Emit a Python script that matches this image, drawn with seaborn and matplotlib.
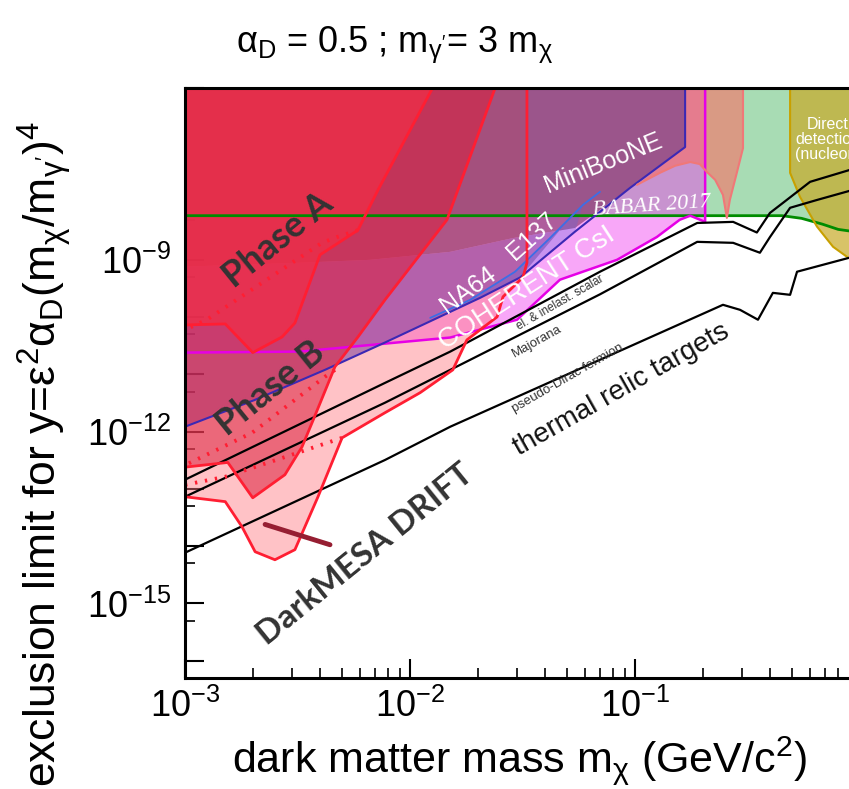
import math
import matplotlib
matplotlib.use('Agg')
import matplotlib.pyplot as plt
import matplotlib.ticker as mticker
import seaborn as sns

# axis ranges (GeV, y = eps^2 alpha_D (m_chi/m_A')^4)
x_min, x_max = 1e-3, 1.0
y_min, y_max = 5e-17, 1e-6

# BaBar 2017 (green) lower edge
babar_x = [1e-3, 0.45, 0.55, 0.68, 0.8, 1.0]
babar_y = [5.9e-9, 5.9e-9, 5.3e-9, 4.2e-9, 3.4e-9, 3.0e-9]

# COHERENT CsI lower edge, right edge at 0.205 GeV
coh_x = [1e-3, 3.24e-3, 1.51e-2, 2.99e-2, 4.64e-2, 8.32e-2, 0.125, 0.158, 0.176, 0.205, 0.205]
coh_y = [2.4e-11, 2.5e-11, 4.4e-11, 9.0e-11, 4.5e-10, 1e-9, 2.5e-9, 5.0e-9, 5.9e-9, 4.6e-9, 1e-6]

# salmon region (top right, with spike)
sal_x = [0.167, 0.302, 0.302, 0.284, 0.264, 0.256, 0.246, 0.227, 0.209, 0.194, 0.176, 0.151, 0.129, 0.102, 0.167]
sal_y = [1e-6, 1e-6, 8.9e-8, 3.4e-8, 1.11e-8, 5.4e-9, 1.36e-8, 2.5e-8, 3.4e-8, 4.7e-8, 5.1e-8, 4.4e-8, 3.3e-8, 2.04e-8, 9.3e-8]

# MiniBooNE (lower edge continues as the faint curve on the left)
mb_x = [1e-3, 0.167, 0.167, 9.5e-2, 5.41e-2, 2.87e-2, 1.51e-2, 6.64e-3, 3.24e-3, 1e-3]
mb_y = [1e-6, 1e-6, 9.3e-8, 1.8e-8, 3.6e-9, 2.4e-9, 1.38e-9, 1e-9, 8.9e-10, 7.6e-10]

# NA64 band: lower edge, upper edge
na64_lo_x = [1e-3, 2.05e-3, 4.19e-3, 7.74e-3, 2.05e-2, 3.08e-2, 4.64e-2, 5.41e-2]
na64_lo_y = [1.22e-12, 3.6e-12, 1.2e-11, 3.6e-11, 2.17e-10, 4.9e-10, 3.3e-9, 3.6e-9]
na64_hi_x = [2.87e-2, 1.51e-2, 6.64e-3, 3.24e-3, 1e-3]
na64_hi_y = [2.4e-9, 1.38e-9, 1e-9, 8.9e-10, 7.6e-10]

# indigo boundary line (NA64 / MiniBooNE)
ind_x = [1e-3, 2.05e-3, 4.19e-3, 7.74e-3, 2.05e-2, 3.08e-2, 5.41e-2, 9.5e-2, 0.167, 0.167]
ind_y = [1.22e-12, 3.6e-12, 1.2e-11, 3.6e-11, 2.17e-10, 4.9e-10, 3.1e-9, 1.8e-8, 9.3e-8, 1e-6]

# E137 line
e137_x = [1.23e-2, 1.85e-2, 2.93e-2, 4.19e-2, 5.87e-2, 6.99e-2]
e137_y = [9.7e-11, 2.0e-10, 6.2e-10, 2.4e-9, 9.1e-9, 1.54e-8]

# direct detection (nucleon)
dd_x = [0.489, 0.489, 0.541, 0.644, 0.759, 0.875, 1.0, 1.0]
dd_y = [1e-6, 3.3e-8, 1.26e-8, 3.8e-9, 1.69e-9, 1.13e-9, 9.2e-10, 1e-6]

# DarkMESA Phase A / Phase B
phA_x = [1.26e-2, 7.21e-3, 5.87e-3, 3.98e-3, 3.08e-3, 2.70e-3, 2.0e-3, 1.51e-3, 1e-3]
phA_y = [1e-6, 1.66e-8, 3.3e-9, 1.22e-9, 7.9e-11, 4.5e-11, 2.4e-11, 7.6e-11, 7.3e-11]
phA_dot_x = [5.87e-3, 4.74e-3, 4.06e-3, 1.25e-3, 1e-3]
phA_dot_y = [3.3e-9, 2.5e-9, 1.98e-9, 9.0e-11, 6.0e-11]

phB2_x = [2.39e-2, 1.46e-2, 7.74e-3, 5.87e-3, 4.64e-3, 3.67e-3, 3.31e-3, 2.78e-3, 2.0e-3, 1.55e-3, 1e-3]
phB2_y = [1e-6, 5.0e-9, 2.0e-10, 4.5e-11, 1.36e-11, 1.43e-12, 5.4e-13, 1.77e-13, 7.0e-14, 2.9e-13, 2.4e-13]

phB_x = [3.31e-2, 3.31e-2, 3.18e-2, 2.59e-2, 2.44e-2, 2.05e-2, 1.79e-2, 1.55e-2, 1.11e-2, 7.74e-3,
         4.99e-3, 3.90e-3, 3.08e-3, 2.51e-3, 2.05e-3, 1.79e-3, 1.51e-3, 1e-3]
phB_y = [1e-6, 8.9e-10, 5.0e-10, 2.26e-10, 1.01e-10, 6.0e-11, 4.0e-11, 1.2e-11, 4.8e-12, 2.14e-12,
         7.8e-13, 7.3e-14, 8.7e-15, 5.8e-15, 8.0e-15, 2.2e-14, 6.0e-14, 7.3e-14]
phB_dot1_x = [4.64e-3, 4.19e-3, 1.99e-3, 1e-3]
phB_dot1_y = [1.2e-11, 9.1e-12, 9.6e-13, 2.6e-13]
phB_dot2_x = [4.99e-3, 2.78e-3, 1.51e-3, 1e-3]
phB_dot2_y = [7.8e-13, 3.6e-13, 1.63e-13, 1.18e-13]

drift_x = [2.27e-3, 4.41e-3]
drift_y = [2.4e-14, 1.06e-14]

# thermal relic targets
scalar_x = [1e-3, 7.74e-3, 1.51e-2, 6.99e-2, 0.189, 0.273, 0.348, 0.398, 0.455, 0.600, 1.0]
scalar_y = [1.45e-13, 7.1e-12, 2.5e-11, 6.2e-10, 4.4e-9, 4.6e-9, 3.0e-9, 6.6e-9, 9.9e-9, 2.3e-8, 4.2e-8]
majorana_x = [1e-3, 7.74e-3, 1.51e-2, 6.99e-2, 0.189, 0.273, 0.359, 0.398, 0.489, 0.644, 1.0]
majorana_y = [7.3e-14, 3.2e-12, 1.2e-11, 2.5e-10, 2.06e-9, 1.98e-9, 1.33e-9, 2.5e-9, 8.1e-9, 1.11e-8, 1.8e-8]
pdirac_x = [1e-3, 7.74e-3, 1.51e-2, 0.246, 0.293, 0.352, 0.410, 0.489, 0.525, 1.0]
pdirac_y = [7.7e-15, 3.2e-13, 1.22e-12, 1.64e-10, 1.34e-10, 9.0e-11, 2.65e-10, 2.45e-10, 6.2e-10, 1.22e-9]

y_labelled = [-9, -12, -15]

sns.set_theme(style='ticks')
plt.rcParams['font.family'] = ['Liberation Sans', 'DejaVu Sans']
plt.rcParams['mathtext.default'] = 'regular'
plt.rcParams['text.color'] = 'black'

fig = plt.figure(figsize=(8.49, 7.89), dpi=100)
ax = fig.add_axes([185 / 849, 111 / 789, 675 / 849, 590 / 789])
ax.set_xscale('log')
ax.set_yscale('log')
ax.set_xlim(x_min, x_max)
ax.set_ylim(y_min, y_max)


def region(x, y, color, alpha, z):
    ax.fill(x, y, color=color, alpha=alpha, lw=0, zorder=z)


def trace(x, y, color, lw, ls='-', z=6):
    sns.lineplot(x=x, y=y, sort=False, estimator=None, color=color, lw=lw,
                 linestyle=ls, zorder=z, ax=ax, legend=False)


# filled regions, back to front
region(babar_x + [x_max, x_min], babar_y + [y_max, y_max], '#a8dcb4', 1.0, 1)
region(coh_x + [x_min], coh_y + [y_max], '#f03cf0', 0.45, 2)
region(sal_x, sal_y, '#fa6e64', 0.6, 2.5)
region(phB_x + [x_min], phB_y + [y_max], '#ff7882', 0.45, 2.8)
region(mb_x, mb_y, '#7d2d5f', 0.6, 3)
region(na64_lo_x + na64_hi_x, na64_lo_y + na64_hi_y, '#6e3296', 0.5, 3.2)
region(e137_x[:5] + ind_x[6:3:-1], e137_y[:5] + ind_y[6:3:-1], '#5a64dc', 0.3, 3.4)
region(dd_x, dd_y, '#c8aa28', 0.7, 3.6)
region(phB2_x + [x_min], phB2_y + [y_max], '#dc1e3c', 0.55, 4.2)
region(phA_x + [x_min], phA_y + [y_max], '#f32d46', 0.7, 4.4)

# boundary lines
trace(babar_x, babar_y, '#008c00', 2.0)
trace(coh_x, coh_y, '#e600e6', 1.8)
trace(ind_x, ind_y, '#3c28b4', 1.5)
trace(e137_x, e137_y, '#3c6ee6', 1.3)
trace(sal_x[1:-1], sal_y[1:-1], '#f07878', 1.5)
trace(dd_x[:-2], dd_y[:-2], '#c8a000', 1.5)
for tx, ty in [(scalar_x, scalar_y), (majorana_x, majorana_y), (pdirac_x, pdirac_y)]:
    trace(tx, ty, 'black', 1.6, z=7)
for px, py in [(phA_x, phA_y), (phB2_x, phB2_y), (phB_x, phB_y)]:
    trace(px, py, '#ff1e32', 2.0, z=8)
for px, py in [(phA_dot_x, phA_dot_y), (phB_dot1_x, phB_dot1_y), (phB_dot2_x, phB_dot2_y)]:
    trace(px, py, '#ff1e32', 2.8, ls=(0, (0.6, 2.0)), z=8)
trace(drift_x, drift_y, '#961e32', 3.5, z=9)

# labels inside the plot
geo = ['Lato', 'DejaVu Sans']
kw = dict(ha='center', va='center', rotation_mode='anchor', zorder=10)
ax.text(2.6e-3, 2.2e-9, 'Phase A', fontsize=26, fontweight='bold', color='#333333', family=geo, rotation=39, **kw)
ax.text(2.4e-3, 5.8e-12, 'Phase B', fontsize=26, fontweight='bold', color='#333333', family=geo, rotation=39, **kw)
ax.text(6.3e-3, 7.1e-15, 'DarkMESA DRIFT', fontsize=24, fontweight='bold', color='#333333', family=geo, rotation=39, **kw)
ax.text(7.2e-2, 4.9e-8, 'MiniBooNE', fontsize=18, color='white', rotation=22, **kw)
ax.text(0.118, 8.6e-9, 'BABAR 2017', fontsize=16, color='white', style='italic',
        family=['Liberation Serif', 'DejaVu Serif'], rotation=4, **kw)
ax.text(1.81e-2, 3.0e-10, 'NA64', fontsize=18, color='white', rotation=36, **kw)
ax.text(3.5e-2, 2.6e-9, 'E137', fontsize=18, color='white', rotation=42, **kw)
ax.text(3.3e-2, 3.2e-10, 'COHERENT CsI', fontsize=20, color='white', rotation=33, **kw)
ax.text(4.64e-2, 1.75e-10, 'el. & inelast. scalar', fontsize=8.5, color='#333333', rotation=30, **kw)
ax.text(3.67e-2, 3.8e-11, 'Majorana', fontsize=9.5, color='#333333', rotation=29, **kw)
ax.text(5.04e-2, 8.7e-12, 'pseudo-Dirac fermion', fontsize=9.5, color='#333333', rotation=30, **kw)
ax.text(8.67e-2, 5.4e-12, 'thermal relic targets', fontsize=20, color='#111111', rotation=29.5, **kw)
ax.text(0.72, 1.24e-7, 'Direct\ndetection\n(nucleon)', fontsize=11.5, color='white', linespacing=1.0, **kw)

# axes styling
ax.xaxis.set_major_locator(mticker.FixedLocator([1e-3, 1e-2, 1e-1]))
ax.xaxis.set_minor_locator(mticker.LogLocator(base=10, subs=range(2, 10), numticks=20))
ax.xaxis.set_minor_formatter(mticker.NullFormatter())
ax.yaxis.set_major_locator(mticker.FixedLocator([10.0 ** k for k in range(-16, -5)]))
ax.yaxis.set_minor_locator(mticker.FixedLocator([5 * 10.0 ** k for k in range(-17, -6)]))


def y_fmt(v, pos):
    k = round(math.log10(v))
    return r'$10^{%d}$' % k if k in y_labelled else ''


ax.yaxis.set_major_formatter(mticker.FuncFormatter(y_fmt))
ax.yaxis.set_minor_formatter(mticker.NullFormatter())
ax.tick_params(axis='both', which='major', direction='in', length=14, width=1.5, labelsize=26,
               color='black', labelcolor='black')
ax.tick_params(axis='both', which='minor', direction='in', length=7, width=1.2, color='black')
ax.tick_params(axis='x', which='major', pad=8)
ax.tick_params(axis='y', which='major', pad=10)
for s in ax.spines.values():
    s.set_linewidth(2.2)
    s.set_color('black')
    s.set_zorder(12)
ax.grid(False)

fig.text(0.612, 0.022, r'dark matter mass m$_{\chi}$ (GeV/c$^{2}$)', fontsize=31, ha='center', va='baseline')
fig.text(0.052, 0.425, r'exclusion limit for y=$\varepsilon^{2}\alpha_{D}(m_{\chi}/m_{\gamma^{\prime}})^{4}$',
         fontsize=32, ha='center', va='center', rotation=90)
fig.text(0.465, 0.943, r'$\alpha_{D}$ = 0.5 ; m$_{\gamma^{\prime}}$= 3 m$_{\chi}$', fontsize=26, ha='center', va='center')

fig.savefig('out.png', dpi=100)
